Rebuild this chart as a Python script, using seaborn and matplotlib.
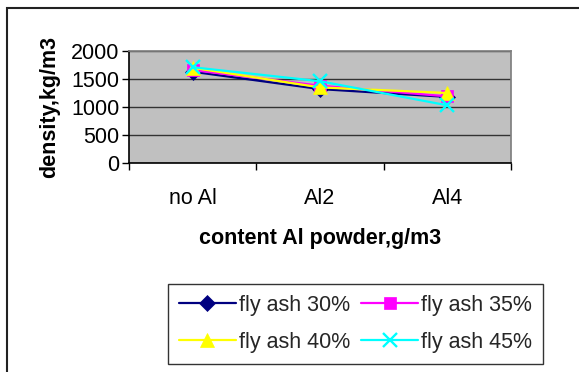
import matplotlib
matplotlib.use("Agg")
import matplotlib.pyplot as plt
import seaborn as sns
import pandas as pd
from matplotlib.lines import Line2D
from matplotlib.patches import Rectangle

categories = ["no Al", "Al2", "Al4"]
series_names = ["fly ash 30%", "fly ash 35%", "fly ash 40%", "fly ash 45%"]
ash30 = [1630, 1320, 1180]
ash35 = [1660, 1380, 1190]
ash40 = [1700, 1350, 1250]
ash45 = [1710, 1460, 1030]
y_ticks = [0, 500, 1000, 1500, 2000]

colors = ["#000080", "#FF00FF", "#FFFF00", "#00FFFF"]
markers = ["D", "s", "^", "x"]
marker_sizes = {"D": 8, "s": 8, "^": 10, "x": 10}
edge_widths = {"D": 0.5, "s": 0.5, "^": 0.5, "x": 1.7}

rows = []
for name, vals in zip(series_names, [ash30, ash35, ash40, ash45]):
    for i, v in enumerate(vals):
        rows.append({"pos": i, "density": v, "series": name})
df = pd.DataFrame(rows)

sns.set_theme(style="white")
plt.rcParams["font.family"] = ["Liberation Sans", "DejaVu Sans"]

FS = 15.5

fig = plt.figure(figsize=(5.79, 3.72), dpi=100)
ax = fig.add_axes([129 / 579, 1 - 163 / 372, 382 / 579, 112 / 372])
ax.set_facecolor("#C0C0C0")

for name, col, mk in zip(series_names, colors, markers):
    sub = df[df["series"] == name]
    sns.lineplot(data=sub, x="pos", y="density", ax=ax, color=col,
                 marker=mk, markersize=marker_sizes[mk],
                 markeredgecolor=col, markeredgewidth=edge_widths[mk],
                 linewidth=1.6, legend=False)

ax.set_xlim(-0.5, 2.5)
ax.set_ylim(0, 2000)
ax.set_yticks(y_ticks)
ax.set_yticklabels([str(t) for t in y_ticks], fontsize=FS)
ax.set_xticks([0, 1, 2])
ax.set_xticklabels(categories, fontsize=FS)
ax.set_xticks([-0.5, 0.5, 1.5, 2.5], minor=True)
ax.tick_params(axis="x", which="major", length=0, pad=18, colors="black")
ax.tick_params(axis="x", which="minor", length=5, width=1, color="black", direction="out", bottom=True)
ax.tick_params(axis="y", which="major", length=5, width=1, color="black", direction="out", left=True, pad=2)
for t in ax.get_yticklabels() + ax.get_xticklabels():
    t.set_color("black")

ax.grid(axis="y", color="#333333", linewidth=1)
ax.set_axisbelow(True)
ax.spines["left"].set_color("black")
ax.spines["bottom"].set_color("black")
ax.spines["left"].set_linewidth(1.2)
ax.spines["bottom"].set_linewidth(1.2)
ax.spines["top"].set_color("#808080")
ax.spines["right"].set_color("#808080")

ax.set_xlabel("content Al powder,g/m3", fontsize=FS, fontweight="bold", labelpad=14, color="black")
ax.set_ylabel("density,kg/m3", fontsize=FS, fontweight="bold", labelpad=8, color="black")

handles = [Line2D([0], [0], color=c, marker=m, markersize=marker_sizes[m],
                  markeredgecolor=c, markeredgewidth=edge_widths[m], linewidth=1.6)
           for c, m in zip(colors, markers)]
# two columns, read row by row
order = [0, 2, 1, 3]
leg = fig.legend([handles[i] for i in order], [series_names[i] for i in order],
                 loc="upper left", bbox_to_anchor=(168 / 579, 1 - 284 / 372), ncol=2,
                 fontsize=FS, frameon=True, fancybox=False, handlelength=2.65,
                 columnspacing=0.5, handletextpad=0.15, borderpad=0.5,
                 labelspacing=0.75, borderaxespad=0)
leg.get_frame().set_edgecolor("black")
leg.get_frame().set_linewidth(1)

# outer chart frame
fig.patches.append(Rectangle((7 / 579, -0.05), 1.2, 1 - 8 / 372 + 0.05,
                             transform=fig.transFigure, fill=False,
                             edgecolor="#222222", linewidth=1.5))

fig.savefig("out.png", dpi=100, facecolor="white")
